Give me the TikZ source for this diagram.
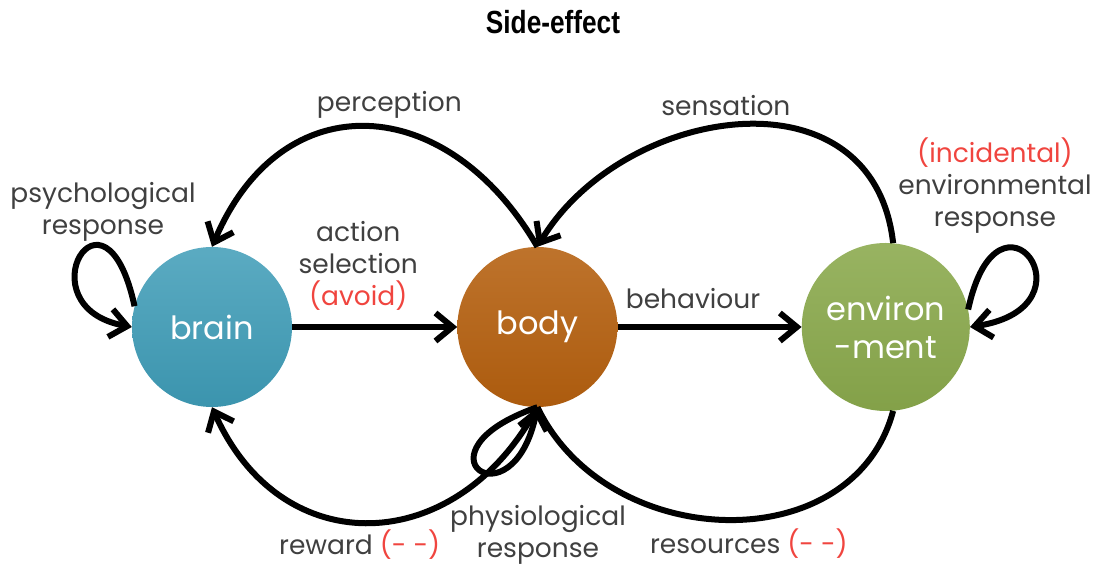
\documentclass[tikz,border=0pt]{standalone}
\usepackage{fontspec}
\setmainfont{Poppins}
\newfontfamily\headfont[FakeStretch=0.82]{Liberation Sans}
\usetikzlibrary{positioning,arrows.meta}
\definecolor{braincol}{HTML}{3E9CB7}
\definecolor{bodycol}{HTML}{B5600F}
\definecolor{envcol}{HTML}{8AA94C}
\definecolor{txtgray}{HTML}{404040}
\definecolor{negred}{HTML}{F0453F}
\newcommand{\redtxt}[1]{{\color{negred}#1}}

\tikzset{
  state/.style={circle, minimum size=160pt, inner sep=0pt, text=white,
    font=\fontsize{32}{38}\selectfont, align=center},
  arr/.style={line width=6pt, -{Straight Barb[length=17pt,width=28pt]}},
  plain/.style={line width=6pt},
  lbl/.style={text=txtgray, font=\fontsize{26.5}{32}\selectfont, align=center, inner sep=2pt},
}

\begin{document}
\begin{tikzpicture}[x=1pt,y=1pt]
  \useasboundingbox (0,0) rectangle (1101,569);
  \node[font=\headfont\bfseries\fontsize{32}{36}\selectfont] (title) at (553,547) {Side-effect};

  \node[state, top color=braincol!85!white, bottom color=braincol!95!black] (brain) at (212,242) {brain};
  \node[state, top color=bodycol!88!white, bottom color=bodycol!95!black, right=165pt of brain] (body) {body};
  \node[state, minimum size=168pt, top color=envcol!88!white, bottom color=envcol!95!black, right=184pt of body] (env) {environ\\-ment};

  \draw[arr] (brain) -- node[lbl, pos=0.4, above=12pt] (act) {action\\selection\\\redtxt{(avoid)}} (body);
  \draw[arr] (body) -- node[lbl, pos=0.41, above=13pt] (beh) {behaviour} (env);

  \draw[arr] (body.north) .. controls +(-90,155) and +(70,165) .. node[lbl, pos=0.44, above=6pt] (perc) {perception} (brain.north);
  \draw[arr] (env.85) .. controls +(-20,178) and +(85,142) .. node[lbl, pos=0.53, above=6pt] (sens) {sensation} (body.north);
  \draw[arr] (body.south) .. controls +(-80,-150) and +(70,-157) .. node[lbl, pos=0.53, below=3pt] (rew) {reward \redtxt{(- -)}} (brain.south);
  \draw[plain] (env.275) .. controls +(-40,-150) and +(70,-146) .. node[lbl, pos=0.45, below=4pt] (res) {resources \redtxt{(- -)}} (body.south);

  % self loops
  \draw[arr] (brain.165) .. controls +(-30,140) and +(-110,20) .. (brain.west);
  \draw[arr] (env.12) .. controls +(30,140) and +(130,20) .. (env.east);
  \draw[arr] (body.south) .. controls +(-130,-45) and +(-25,-120) .. (body.south);

  \node[lbl] (psych) at (103,357) {psychological\\response};
  \node[lbl] (envr) at (995,383) {\redtxt{(incidental)}\\environmental\\response};
  \node[lbl] (phys) at (538,34) {physiological\\response};
\end{tikzpicture}
\end{document}
